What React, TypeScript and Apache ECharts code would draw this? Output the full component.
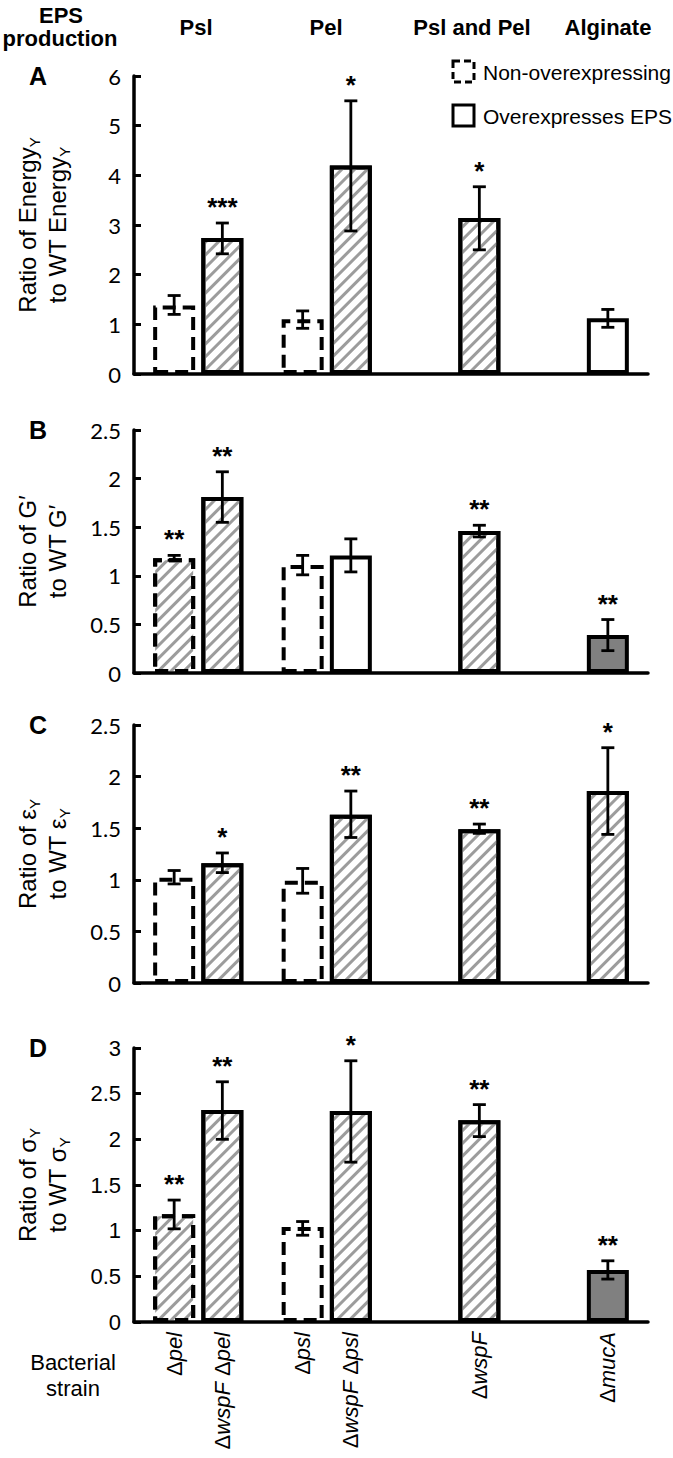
import React, { useEffect, useRef } from 'react';
import * as echarts from 'echarts';

const W = 673;
const H = 1458;

// ---- categories ----
const strains = ['Δpel', 'ΔwspF Δpel', 'Δpsl', 'ΔwspF Δpsl', 'ΔwspF', 'ΔmucA'];
const groupHeaders = ['Psl', 'Pel', 'Psl and Pel', 'Alginate'];

// ---- Panel A : Energy_Y ----
const energyMean = [1.38, 2.74, 1.1, 4.2, 3.14, 1.12];
const energyLow = [1.2, 2.42, 0.92, 2.88, 2.5, 0.94];
const energyHigh = [1.58, 3.04, 1.27, 5.5, 3.77, 1.3];
const energyStars = ['', '***', '', '*', '*', ''];
const energyKind = ['dashed-open', 'hatched', 'dashed-open', 'hatched', 'hatched', 'open'];

// ---- Panel B : G' ----
const gMean = [1.18, 1.81, 1.11, 1.21, 1.46, 0.39];
const gLow = [1.16, 1.55, 1.01, 1.04, 1.4, 0.23];
const gHigh = [1.21, 2.07, 1.21, 1.38, 1.52, 0.55];
const gStars = ['**', '**', '', '', '**', '**'];
const gKind = ['dashed-hatched', 'hatched', 'dashed-open', 'open', 'hatched', 'gray'];

// ---- Panel C : epsilon_Y ----
const epsMean = [1.02, 1.16, 0.99, 1.63, 1.49, 1.86];
const epsLow = [0.96, 1.07, 0.87, 1.41, 1.45, 1.44];
const epsHigh = [1.09, 1.26, 1.11, 1.86, 1.54, 2.28];
const epsStars = ['', '*', '', '**', '**', '*'];
const epsKind = ['dashed-open', 'hatched', 'dashed-open', 'hatched', 'hatched', 'hatched'];

// ---- Panel D : sigma_Y ----
const sigMean = [1.18, 2.32, 1.04, 2.31, 2.21, 0.57];
const sigLow = [1.02, 2.0, 0.95, 1.75, 2.03, 0.47];
const sigHigh = [1.335, 2.63, 1.1, 2.86, 2.38, 0.67];
const sigStars = ['**', '**', '', '*', '**', '**'];
const sigKind = ['dashed-hatched', 'hatched', 'dashed-open', 'hatched', 'hatched', 'gray'];

// ---- y axis ranges / ticks ----
const yMax = [6, 2.5, 2.5, 3];
const yInterval = [1, 0.5, 0.5, 0.5];

// ---- layout (slots along a 32-slot category axis) ----
const SLOT_COUNT = 32;
const strainSlot = [2, 5, 10, 13, 21, 29];
const headerX = [196, 326, 472, 608];
const grids = [
  { top: 76, height: 298 },
  { top: 430, height: 243 },
  { top: 725, height: 258 },
  { top: 1048, height: 274 },
];
const GRID_LEFT = 134;
const GRID_RIGHT = 25;

const SANS = '"Liberation Sans", Arial, Helvetica, sans-serif';
const CAL = 'Lato, "Open Sans", sans-serif';

const HATCH = {
  symbol: 'rect',
  symbolSize: 1,
  color: '#9c9c9c',
  backgroundColor: '#ffffff',
  dashArrayX: [1, 0],
  dashArrayY: [3, 6],
  rotation: -Math.PI / 4,
};

function barItemStyle(kind: string) {
  const dashed = kind.indexOf('dashed') === 0;
  const st: any = {
    color: kind === 'gray' ? '#808080' : '#ffffff',
    borderColor: '#000',
    borderWidth: 4,
    borderType: dashed ? [13, 7] : 'solid',
  };
  if (kind.indexOf('hatched') >= 0) st.decal = HATCH;
  return st;
}

function richStrain(v: string) {
  return v
    .split(' ')
    .map((w) => (w.charAt(0) === 'Δ' ? '{u|Δ}{i|' + w.slice(1) + '}' : '{i|' + w + '}'))
    .join('{u| }');
}

function makeBar(idx: number, mean: number[], kinds: string[]) {
  return {
    type: 'bar',
    xAxisIndex: idx,
    yAxisIndex: idx,
    barWidth: 42,
    z: 2,
    data: strains.map((_, i) => ({ value: [strainSlot[i], mean[i]], itemStyle: barItemStyle(kinds[i]) })),
  };
}

function makeErr(idx: number, low: number[], high: number[], stars: string[]) {
  return {
    type: 'custom',
    xAxisIndex: idx,
    yAxisIndex: idx,
    z: 5,
    data: strains.map((_, i) => [strainSlot[i], low[i], high[i]]),
    renderItem: (params: any, api: any) => {
      const x = api.value(0);
      const lo = api.coord([x, api.value(1)]);
      const hi = api.coord([x, api.value(2)]);
      const cap = 6.5;
      const st = { stroke: '#000', lineWidth: 2.8 };
      const children: any[] = [
        { type: 'line', shape: { x1: lo[0], y1: lo[1], x2: hi[0], y2: hi[1] }, style: st },
        { type: 'line', shape: { x1: lo[0] - cap, y1: lo[1], x2: lo[0] + cap, y2: lo[1] }, style: st },
        { type: 'line', shape: { x1: hi[0] - cap, y1: hi[1], x2: hi[0] + cap, y2: hi[1] }, style: st },
      ];
      const s = stars[params.dataIndex];
      if (s) {
        children.push({
          type: 'text',
          x: hi[0],
          y: hi[1] - 16,
          style: {
            text: s,
            fill: '#000',
            font: 'bold 26px ' + SANS,
            align: 'center',
            verticalAlign: 'middle',
          },
        });
      }
      return { type: 'group', children };
    },
  };
}

const yNames = [
  '{t|Ratio of Energy}{s|Y}\n{t|to WT Energy}{s|Y}',
  '{t|Ratio of G′}\n{t|to WT G′}',
  '{t|Ratio of ε}{s|Y}\n{t|to WT ε}{s|Y}',
  '{t|Ratio of σ}{s|Y}\n{t|to WT σ}{s|Y}',
];

export default function App() {
  const ref = useRef<HTMLDivElement>(null);
  useEffect(() => {
    document.body.style.margin = '0';
    if (!ref.current) return;
    const chart = echarts.init(ref.current, undefined, { renderer: 'svg' });
    const categories = Array.from({ length: SLOT_COUNT }, (_, k) => {
      const i = strainSlot.indexOf(k);
      return i >= 0 ? strains[i] : '';
    });

    const xAxis = grids.map((_, idx) => ({
      type: 'category',
      gridIndex: idx,
      data: categories,
      axisLine: { show: true, lineStyle: { color: '#000', width: 3.5 } },
      axisTick: { show: false },
      axisLabel: {
        show: idx === 3,
        interval: 0,
        rotate: 90,
        margin: 10,
        formatter: (v: string) => (v ? richStrain(v) : ''),
        rich: {
          u: { fontFamily: SANS, fontSize: 22, fontStyle: 'normal', color: '#000' },
          i: { fontFamily: SANS, fontSize: 22, fontStyle: 'italic', color: '#000' },
        },
      },
      splitLine: { show: false },
    }));

    const yAxis = grids.map((_, idx) => ({
      type: 'value',
      gridIndex: idx,
      min: 0,
      max: yMax[idx],
      interval: yInterval[idx],
      name: yNames[idx],
      nameLocation: 'middle',
      nameGap: 62,
      nameTextStyle: {
        rich: {
          t: { fontFamily: SANS, fontSize: 24, color: '#000', lineHeight: 30 },
          s: { fontFamily: SANS, fontSize: 15, color: '#000', lineHeight: 14, verticalAlign: 'bottom' },
        },
      },
      axisLine: { show: true, lineStyle: { color: '#000', width: 3.5 } },
      axisTick: { show: true, inside: true, length: 7, lineStyle: { color: '#000', width: 3 } },
      axisLabel: {
        margin: 13,
        fontFamily: idx === 3 ? SANS : CAL,
        fontSize: 22,
        color: '#000',
      },
      splitLine: { show: false },
    }));

    const series: any[] = [
      makeBar(0, energyMean, energyKind),
      makeErr(0, energyLow, energyHigh, energyStars),
      makeBar(1, gMean, gKind),
      makeErr(1, gLow, gHigh, gStars),
      makeBar(2, epsMean, epsKind),
      makeErr(2, epsLow, epsHigh, epsStars),
      makeBar(3, sigMean, sigKind),
      makeErr(3, sigLow, sigHigh, sigStars),
    ];

    const letters = ['A', 'B', 'C', 'D'];
    const graphic: any[] = [
      { type: 'text', x: 61, y: 15, style: { text: 'EPS', font: 'bold 22px ' + SANS, fill: '#000', align: 'center', verticalAlign: 'middle' } },
      { type: 'text', x: 60, y: 38, style: { text: 'production', font: 'bold 22px ' + SANS, fill: '#000', align: 'center', verticalAlign: 'middle' } },
      ...groupHeaders.map((h, i) => ({
        type: 'text',
        x: headerX[i],
        y: 27,
        style: { text: h, font: 'bold 22px ' + SANS, fill: '#000', align: 'center', verticalAlign: 'middle' },
      })),
      ...letters.map((l, i) => ({
        type: 'text',
        x: 38,
        y: grids[i].top,
        style: { text: l, font: 'bold 25px ' + SANS, fill: '#000', align: 'center', verticalAlign: 'middle' },
      })),
      {
        type: 'rect',
        shape: { x: 453, y: 61, width: 21, height: 21 },
        style: { fill: '#fff', stroke: '#000', lineWidth: 3, lineDash: [7, 4] },
      },
      { type: 'text', x: 483, y: 72, style: { text: 'Non-overexpressing', font: '21px ' + SANS, fill: '#000', align: 'left', verticalAlign: 'middle' } },
      {
        type: 'rect',
        shape: { x: 453, y: 105, width: 21, height: 21 },
        style: { fill: '#fff', stroke: '#000', lineWidth: 3 },
      },
      { type: 'text', x: 483, y: 116, style: { text: 'Overexpresses EPS', font: '21px ' + SANS, fill: '#000', align: 'left', verticalAlign: 'middle' } },
      { type: 'text', x: 73, y: 1362, style: { text: 'Bacterial', font: '22px ' + SANS, fill: '#000', align: 'center', verticalAlign: 'middle' } },
      { type: 'text', x: 73, y: 1388, style: { text: 'strain', font: '22px ' + SANS, fill: '#000', align: 'center', verticalAlign: 'middle' } },
    ];

    chart.setOption({
      animation: false,
      backgroundColor: '#ffffff',
      textStyle: { fontFamily: SANS },
      grid: grids.map((g) => ({ left: GRID_LEFT, right: GRID_RIGHT, top: g.top, height: g.height })),
      xAxis,
      yAxis,
      series,
      graphic,
    });
    return () => chart.dispose();
  }, []);
  return <div ref={ref} style={{ width: W, height: H }} />;
}
